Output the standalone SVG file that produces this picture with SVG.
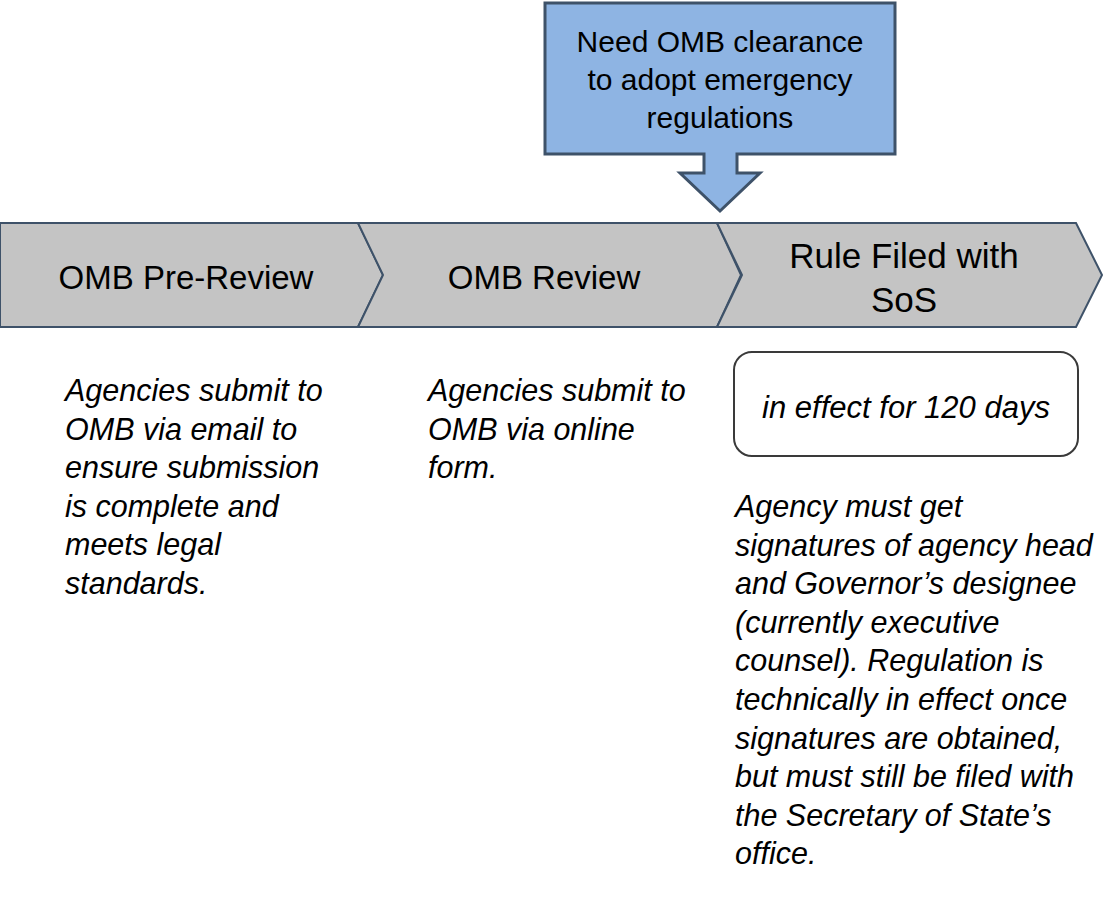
<svg xmlns="http://www.w3.org/2000/svg" width="1104" height="923" viewBox="0 0 1104 923">
<defs>
<style>
.chev{fill:#C4C4C4;stroke:#3E5269;stroke-width:2;stroke-linejoin:miter}
.hd{font-family:"Liberation Sans",Arial,sans-serif;font-size:33px;fill:#000;text-anchor:middle}
.hd3{font-size:35px}
.call{font-family:"Liberation Sans",Arial,sans-serif;font-size:30px;fill:#000;text-anchor:middle}
.body{font-family:"Liberation Sans",Arial,sans-serif;font-size:30.5px;font-style:italic;fill:#000}
</style>
</defs>
<rect width="1104" height="923" fill="#fff"/>
<g id="stage1">
<path class="chev" d="M0,223 L358,223 L383,275 L358,327 L0,327 Z"/>
<text class="hd" x="186" y="289">OMB Pre-Review</text>
</g>
<g id="stage2">
<path class="chev" d="M358,223 L717,223 L741,275 L717,327 L358,327 L383,275 Z"/>
<text class="hd" x="544" y="289">OMB Review</text>
</g>
<g id="stage3">
<path class="chev" d="M717,223 L1076,223 L1102,275 L1076,327 L717,327 L742,275 Z"/>
<text class="hd hd3" x="904" y="268">Rule Filed with</text>
<text class="hd hd3" x="904" y="312">SoS</text>
</g>
<g id="callout">
<path d="M545,3 L895,3 L895,154 L737,154 L737,173 L760,173 L720,211 L680,173 L704,173 L704,154 L545,154 Z" fill="#8EB4E3" stroke="#3E5269" stroke-width="3" stroke-linejoin="miter"/>
<text class="call" x="720" y="52">Need OMB clearance</text>
<text class="call" x="720" y="90">to adopt emergency</text>
<text class="call" x="720" y="128">regulations</text>
</g>
<g id="effect-box">
<rect x="734" y="352" width="344" height="104" rx="18" ry="18" fill="#fff" stroke="#3A3A3A" stroke-width="2"/>
<text class="body" x="906" y="418" text-anchor="middle" style="font-size:31px">in effect for 120 days</text>
</g>
<g id="note1">
<text class="body" x="65" y="401">Agencies submit to</text>
<text class="body" x="65" y="440">OMB via email to</text>
<text class="body" x="65" y="478">ensure submission</text>
<text class="body" x="65" y="517">is complete and</text>
<text class="body" x="65" y="555">meets legal</text>
<text class="body" x="65" y="594">standards.</text>
</g>
<g id="note2">
<text class="body" x="428" y="401">Agencies submit to</text>
<text class="body" x="428" y="440">OMB via online</text>
<text class="body" x="428" y="478">form.</text>
</g>
<g id="note3">
<text class="body" x="735" y="517">Agency must get</text>
<text class="body" x="735" y="556">signatures of agency head</text>
<text class="body" x="735" y="594">and Governor’s designee</text>
<text class="body" x="735" y="633">(currently executive</text>
<text class="body" x="735" y="671">counsel). Regulation is</text>
<text class="body" x="735" y="710">technically in effect once</text>
<text class="body" x="735" y="749">signatures are obtained,</text>
<text class="body" x="735" y="787">but must still be filed with</text>
<text class="body" x="735" y="826">the Secretary of State’s</text>
<text class="body" x="735" y="864">office.</text>
</g>
<g id="connectors"></g>
</svg>
